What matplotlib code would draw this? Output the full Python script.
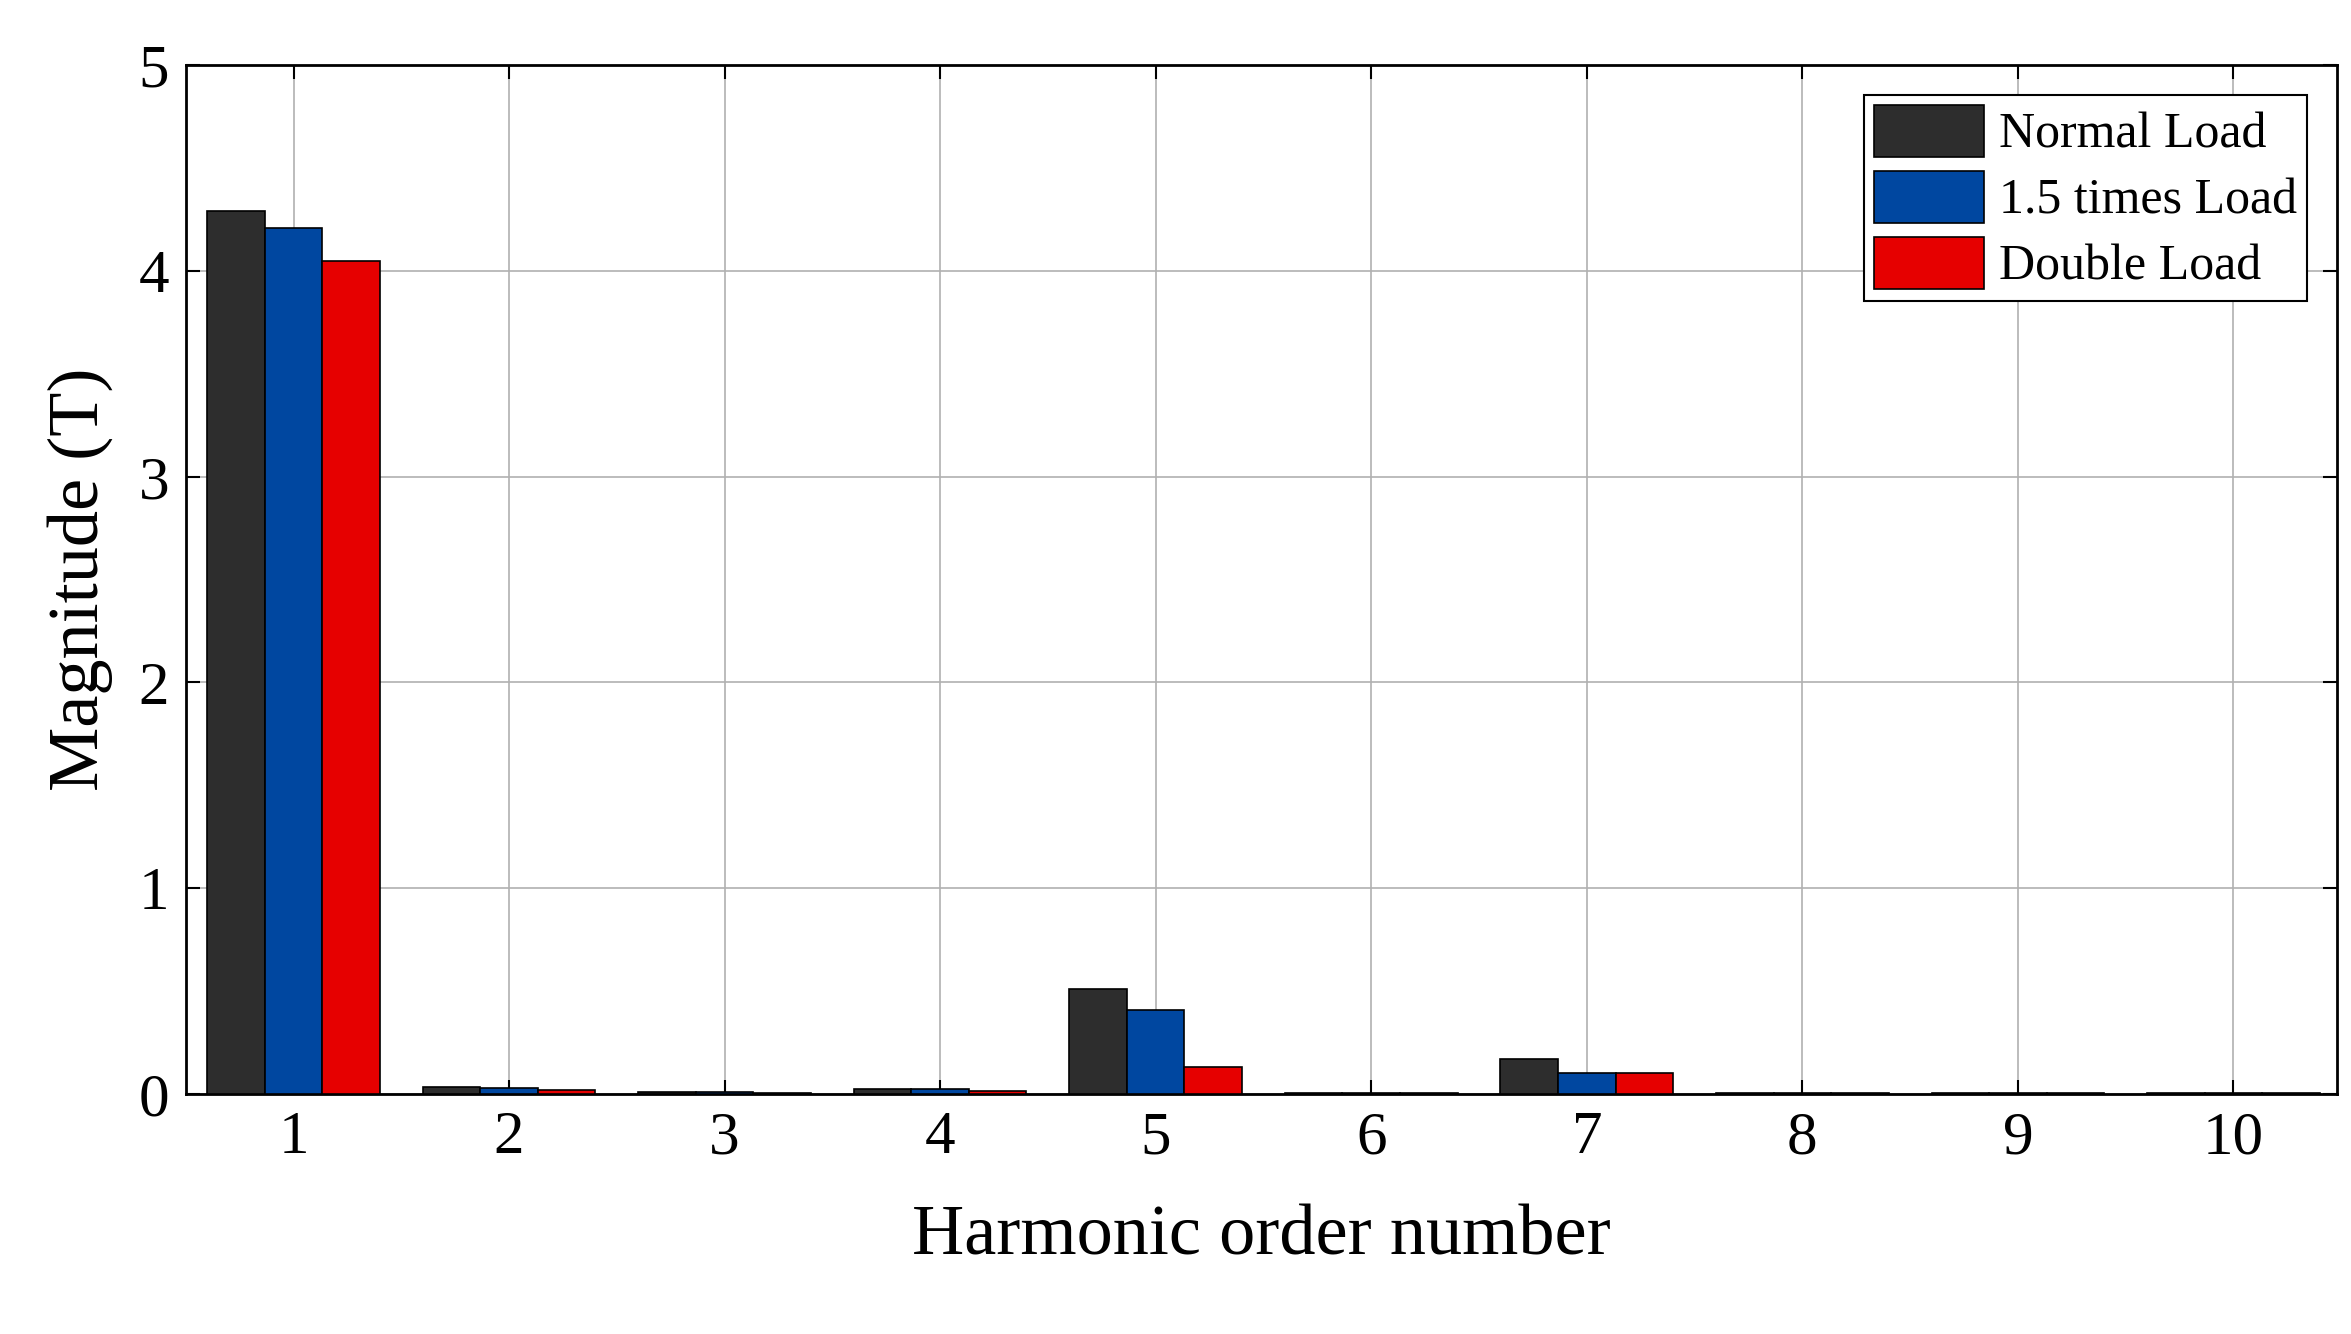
import numpy as np
import matplotlib.pyplot as plt

plt.rcParams['font.family'] = ['Liberation Serif', 'DejaVu Serif']

orders = np.arange(1, 11)
normal_load = [4.29, 0.035, 0.010, 0.025, 0.51, 0.003, 0.17, 0.005, 0.002, 0.003]
load_1p5 = [4.21, 0.030, 0.010, 0.025, 0.41, 0.002, 0.10, 0.004, 0.003, 0.005]
double_load = [4.05, 0.020, 0.005, 0.012, 0.13, 0.004, 0.10, 0.003, 0.004, 0.006]

fig = plt.figure(figsize=(23.51, 13.34), dpi=100)
ax = fig.add_axes([0.079, 0.180, 0.915, 0.771])

w = 0.267
ax.bar(orders - w, normal_load, w, color='#2d2d2d', edgecolor='black', linewidth=1.2, label='Normal Load', zorder=3)
ax.bar(orders, load_1p5, w, color='#0047a0', edgecolor='black', linewidth=1.2, label='1.5 times Load', zorder=3)
ax.bar(orders + w, double_load, w, color='#e60000', edgecolor='black', linewidth=1.2, label='Double Load', zorder=3)

ax.set_xlim(0.5, 10.48)
ax.set_ylim(0, 5)
ax.set_xticks(orders)
ax.set_yticks(range(6))
ax.grid(True, color='#b0b0b0', linewidth=1.2, zorder=0)
ax.tick_params(direction='in', length=10, width=1.5, labelsize=44, top=True, right=True, pad=12)
for s in ax.spines.values():
    s.set_linewidth(2)

ax.set_xlabel('Harmonic order number', fontsize=52, labelpad=28)
ax.set_ylabel('Magnitude (T)', fontsize=52, labelpad=18)

leg = ax.legend(loc='upper right', fontsize=36, fancybox=False, edgecolor='black',
                framealpha=1, handlelength=2.2, handleheight=1.2, borderaxespad=0.6,
                handletextpad=0.3, borderpad=0.2, labelspacing=0.25)
leg.get_frame().set_linewidth(1.5)

fig.savefig('out.png', dpi=100)
